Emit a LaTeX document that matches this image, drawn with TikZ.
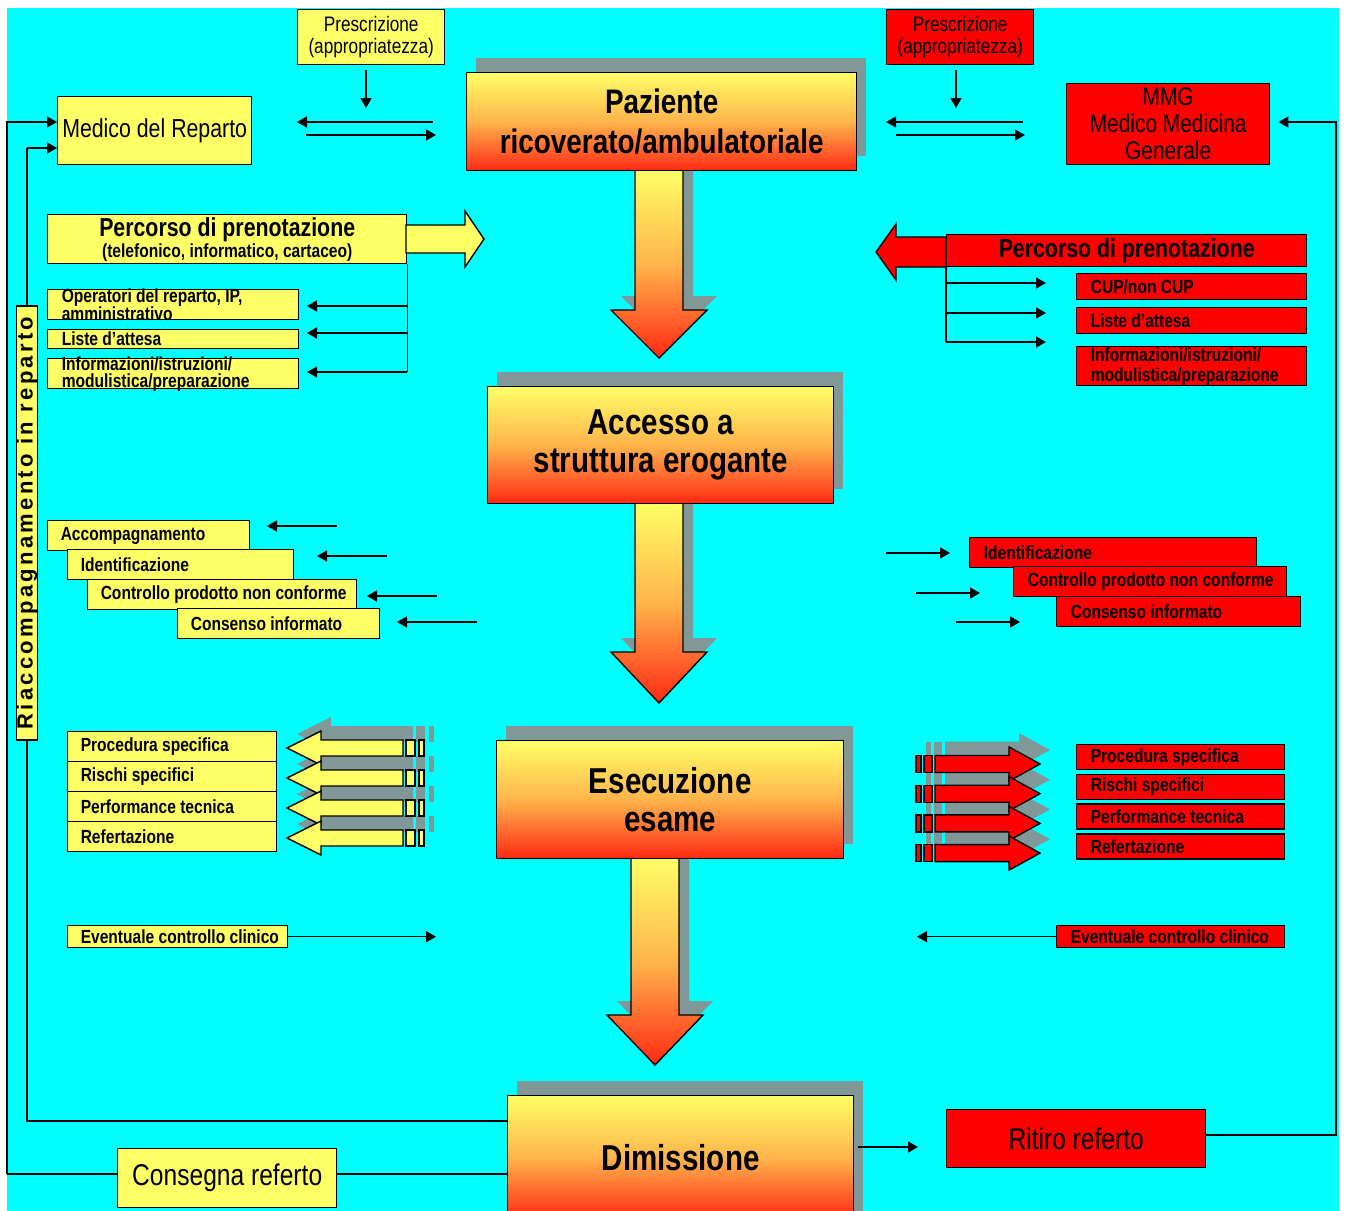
\documentclass[tikz,border=0pt]{standalone}
\usepackage{fontspec}
\setmainfont[FakeStretch=0.82]{Liberation Sans}
\newfontfamily\spaziata[LetterSpace=15]{Liberation Sans}
\usetikzlibrary{arrows.meta,positioning,calc}

\definecolor{sfondo}{RGB}{0,255,255}
\definecolor{giallo}{RGB}{255,255,102}
\definecolor{rosso}{RGB}{255,0,0}
\definecolor{gradtop}{RGB}{255,255,102}
\definecolor{gradmid}{RGB}{255,180,75}
\definecolor{gradbot}{RGB}{255,40,20}
\definecolor{ombragrigia}{RGB}{128,152,152}

\newcommand{\fsz}[2]{\fontsize{#1}{#2}\selectfont}

\tikzset{
  casella/.style={draw, line width=1.4pt, inner sep=0pt, anchor=north west, align=center},
  gialla/.style={casella, fill=giallo},
  rossa/.style={casella, fill=rosso},
  sfumata/.style={casella, top color=gradtop, bottom color=gradbot, middle color=gradmid},
  ombra/.style={fill=ombragrigia},
  testo/.style={anchor=west, inner sep=0pt, align=left},
}

\begin{document}
\begin{tikzpicture}[x=1pt,y=-1pt,line width=1.5pt,>={Triangle[length=10pt,width=11pt]}]
  \useasboundingbox (0,0) rectangle (1345,1211);
  \fill[white] (0,0) rectangle (1345,1211);
  \fill[sfondo] (7,8) rectangle (1339,1211);

  %Free ends of connectors
  \coordinate (pLb) at (366,108);  \coordinate (pRb) at (956,108);
  \coordinate (mLa) at (433,122);  \coordinate (mLb) at (297,122);
  \coordinate (mLc) at (306,135);  \coordinate (mLd) at (436,135);
  \coordinate (mRa) at (1023,122); \coordinate (mRb) at (886,122);
  \coordinate (mRc) at (896,135);  \coordinate (mRd) at (1025,135);
  \coordinate (opT) at (307,306);  \coordinate (lisT) at (307,333);  \coordinate (infT) at (307,372);
  \coordinate (cupT) at (1046,283); \coordinate (lisRT) at (1046,313); \coordinate (infRT) at (1046,342);
  \coordinate (loopA) at (7,1174);  \coordinate (loopA2) at (7,122);
  \coordinate (loopB) at (27,1121); \coordinate (loopB2) at (27,148);
  \coordinate (loopC) at (1336,1135); \coordinate (loopC2) at (1336,122);
  \coordinate (dimR) at (918,1147);
  \coordinate (evLT) at (436,938); \coordinate (evRT) at (917,938);

  %Draw shadows
  \begin{scope}[shift={(10,-14)}]
    \fill[ombra] (466,72) rectangle +(390,98);
    \fill[ombra] (487,386) rectangle +(346,117);
    \fill[ombra] (496,740) rectangle +(347,118);
    \fill[ombra] (507,1095) rectangle +(346,130);
    \foreach \xc/\yt/\yb/\yp in {659/170/310/358, 659/503/652/703, 655/858/1015/1065}
      \fill[ombra] (\xc-24,\yt) -- (\xc+24,\yt) -- (\xc+24,\yb) -- (\xc+48,\yb) -- (\xc,\yp)
        -- (\xc-48,\yb) -- (\xc-24,\yb) -- cycle;
    \foreach \i in {0,...,3} {
      \pgfmathsetmacro{\yc}{748+30*\i}
      \fill[ombra] (287,\yc) -- (321,\yc-17) -- (321,\yc-8) -- (403,\yc-8) -- (403,\yc+8)
        -- (321,\yc+8) -- (321,\yc+17) -- cycle;
      \fill[ombra] (406,\yc-8) rectangle (415,\yc+8);
      \fill[ombra] (419,\yc-8) rectangle (424,\yc+8);
      \pgfmathsetmacro{\yr}{764+29.7*\i}
      \fill[ombra] (1040,\yr) -- (1009,\yr-17) -- (1009,\yr-8.5) -- (935,\yr-8.5) -- (935,\yr+8.5)
        -- (1009,\yr+8.5) -- (1009,\yr+17) -- cycle;
      \fill[ombra] (916,\yr-8.5) rectangle (921,\yr+8.5);
      \fill[ombra] (924,\yr-8.5) rectangle (932,\yr+8.5);
    }
  \end{scope}

  %Draw big down arrows
  \foreach \xc/\yt/\yb/\yp in {659/170/310/358, 659/503/652/703, 655/858/1015/1065}
    \draw[line width=1.4pt, top color=gradtop, bottom color=gradbot, middle color=gradmid]
      (\xc-24,\yt) -- (\xc+24,\yt) -- (\xc+24,\yb) -- (\xc+48,\yb) -- (\xc,\yp)
      -- (\xc-48,\yb) -- (\xc-24,\yb) -- cycle;

  %Main boxes
  \node[gialla, minimum width=147pt, minimum height=55pt, font=\fsz{21}{22}] (prescL) at (297,9) {Prescrizione\\(appropriatezza)};
  \node[rossa, minimum width=147pt, minimum height=55pt, font=\fsz{21}{22}] (prescR) at (886,9) {Prescrizione\\(appropriatezza)};
  \node[gialla, minimum width=194pt, minimum height=68pt, font=\fsz{26}{28}] (medico) at (57,96) {Medico del Reparto};
  \node[rossa, minimum width=203pt, minimum height=81pt, font=\fsz{25.5}{27}] (mmg) at (1066,83) {MMG\\Medico Medicina\\Generale};
  \node[sfumata, minimum width=390pt, minimum height=98pt, font=\bfseries\fsz{34}{40}] (paziente) at (466,72) {Paziente\\ricoverato/ambulatoriale};
  \node[sfumata, minimum width=346pt, minimum height=117pt, font=\bfseries\fsz{36}{38}] (accesso) at (487,386) {Accesso a\\struttura erogante};
  \node[sfumata, minimum width=347pt, minimum height=118pt, font=\bfseries\fsz{36}{38}] (esecuzione) at (496,740) {Esecuzione\\esame};
  \node[sfumata, minimum width=346pt, minimum height=124pt, font=\bfseries\fsz{36}{38}] (dimissione) at (507,1095) {Dimissione};
  \node[rossa, minimum width=259pt, minimum height=58pt, font=\fsz{30}{32}] (ritiro) at (946,1109) {Ritiro referto};

  %Loops back to the doctors
  \draw (dimissione.west |- loopA) -- (loopA);
  \draw[->] (loopA) -- (loopA2) -- (medico.west |- loopA2);
  \draw (dimissione.west |- loopB) -- (loopB) -- (loopB2);
  \draw[->] (loopB2) -- (medico.west |- loopB2);
  \draw[->, shorten >=8pt] (ritiro.east |- loopC) -- (loopC) -- (loopC2) -- (mmg.east |- loopC2);
  \node[gialla, minimum width=219pt, minimum height=59pt, font=\fsz{30}{32}] (consegna) at (117,1148) {Consegna referto};
  \node[gialla, rotate=90, anchor=center, minimum width=434pt, minimum height=20pt,
        font=\spaziata\bfseries\fsz{22}{22}] (riacc) at (27,523) {Riaccompagnamento in reparto};

  %Booking paths
  \node[gialla, minimum width=359pt, minimum height=49pt, font=\bfseries\fsz{19}{21}] (percL) at (47,214)
    {{\fsz{26}{21}Percorso di prenotazione}\\(telefonico, informatico, cartaceo)};
  \draw[line width=1.4pt, fill=giallo] (406,225) -- (465,225) -- (465,211) -- (484,239) -- (465,267) -- (465,253) -- (406,253) -- cycle;
  \node[rossa, minimum width=360pt, minimum height=32pt, font=\bfseries\fsz{26}{28}] (percR) at (946,234) {Percorso di prenotazione};
  \draw[line width=1.4pt, fill=rosso] (946,237) -- (896,237) -- (896,224) -- (876,252) -- (896,280) -- (896,267) -- (946,267) -- cycle;

  \foreach \n/\y/\h/\t in {opL/289/30/{Operatori del reparto, IP,\\amministrativo}, lisL/329/19/{Liste d’attesa},
      infL/358/30/{Informazioni/istruzioni/\\modulistica/preparazione}} {
    \node[gialla, minimum width=251pt, minimum height=\h pt] (\n) at (47,\y) {};
    \node[testo, font=\bfseries\fsz{19}{17}] (\n-t) at ([xshift=14pt]\n.west) {\t};
  }
  \foreach \n/\y/\h/\t in {cupR/273/26/{CUP/non CUP}, lisR/307/26/{Liste d’attesa},
      infR/346/39/{Informazioni/istruzioni/\\modulistica/preparazione}} {
    \node[rossa, minimum width=230pt, minimum height=\h pt] (\n) at (1076,\y) {};
    \node[testo, font=\bfseries\fsz{19}{20}] (\n-t) at ([xshift=14pt]\n.west) {\t};
  }
  \draw (percL.south east) -- (percL.south east |- infT);
  \foreach \c in {opT,lisT,infT} \draw[->] (percL.south east |- \c) -- (\c);
  \draw (percR.south west) -- (percR.south west |- infRT);
  \foreach \c in {cupT,lisRT,infRT} \draw[->] (percR.south west |- \c) -- (\c);

  %Prescription and exchange arrows
  \draw[->, shorten <=5pt] (prescL.south -| pLb) -- (pLb);
  \draw[->, shorten <=5pt] (prescR.south -| pRb) -- (pRb);
  \draw[->] (mLa) -- (mLb);  \draw[->] (mLc) -- (mLd);
  \draw[->] (mRa) -- (mRb);  \draw[->] (mRc) -- (mRd);

  %Staircases at the access
  \foreach \n/\x/\y/\w/\t in {accL/47/520/202/Accompagnamento, idL/67/549/226/Identificazione,
      ctrL/87/579/269/Controllo prodotto non conforme, conL/177/608/202/Consenso informato} {
    \node[gialla, minimum width=\w pt, minimum height=30pt] (\n) at (\x,\y) {};
    \node[testo, font=\bfseries\fsz{19}{20}] (\n-t) at ([xshift=13pt]\n.west) {\t};
  }
  \foreach \n/\x/\y/\w/\t in {idR/969/537/287/Identificazione,
      ctrR/1013/566/273/Controllo prodotto non conforme, conR/1056/596/244/Consenso informato} {
    \node[rossa, minimum width=\w pt, minimum height=30pt] (\n) at (\x,\y) {};
    \node[testo, font=\bfseries\fsz{19}{20}] (\n-t) at ([xshift=14pt]\n.west) {\t};
  }
  \foreach \n/\xa/\xb/\y in {sL1/337/267/526, sL2/387/317/556, sL3/437/367/596, sL4/477/397/622,
      sR1/886/950/553, sR2/916/980/593, sR3/956/1020/622} {
    \coordinate (\n-a) at (\xa,\y);  \coordinate (\n-b) at (\xb,\y);
    \draw[->] (\n-a) -- (\n-b);
  }

  %Lists at the exam
  \foreach \t [count=\i from 0] in {Procedura specifica, Rischi specifici, Performance tecnica, Refertazione} {
    \node[gialla, minimum width=209pt, minimum height=30pt] (esL\i) at (67,731+30*\i) {};
    \node[testo, font=\bfseries\fsz{19}{20}] (esL\i-t) at ([xshift=13pt]esL\i.west) {\t};
    \node[rossa, minimum width=208pt, minimum height=25pt] (esR\i) at (1076,744+29.7*\i) {};
    \node[testo, font=\bfseries\fsz{19}{20}] (esR\i-t) at ([xshift=14pt]esR\i.west) {\t};
  }
  \foreach \i in {0,...,3} {
    \pgfmathsetmacro{\yc}{748+30*\i}
    \draw[line width=1.4pt, fill=giallo] (287,\yc) -- (321,\yc-17) -- (321,\yc-8) -- (403,\yc-8) -- (403,\yc+8)
      -- (321,\yc+8) -- (321,\yc+17) -- cycle;
    \draw[line width=1.4pt, fill=giallo] (406,\yc-8) rectangle (415,\yc+8);
    \draw[line width=1.4pt, fill=giallo] (419,\yc-8) rectangle (424,\yc+8);
    \pgfmathsetmacro{\yr}{764+29.7*\i}
    \draw[line width=1.4pt, fill=rosso] (1040,\yr) -- (1009,\yr-17) -- (1009,\yr-8.5) -- (935,\yr-8.5) -- (935,\yr+8.5)
      -- (1009,\yr+8.5) -- (1009,\yr+17) -- cycle;
    \draw[line width=1.4pt, fill=rosso] (916,\yr-8.5) rectangle (921,\yr+8.5);
    \draw[line width=1.4pt, fill=rosso] (924,\yr-8.5) rectangle (932,\yr+8.5);
  }

  %Clinical check and report
  \node[gialla, minimum width=220pt, minimum height=22pt] (evL) at (67,925) {};
  \node[testo, font=\bfseries\fsz{19}{20}] (evL-t) at ([xshift=13pt]evL.west) {Eventuale controllo clinico};
  \node[rossa, minimum width=228pt, minimum height=22pt] (evR) at (1056,925) {};
  \node[testo, font=\bfseries\fsz{19}{20}] (evR-t) at ([xshift=14pt]evR.west) {Eventuale controllo clinico};
  \draw[->] (evL.east) -- (evL.east -| evLT);
  \draw[->] (evR.west) -- (evR.west -| evRT);
  \draw[->, shorten <=4pt] (dimissione.east |- dimR) -- (dimR);
\end{tikzpicture}
\end{document}
